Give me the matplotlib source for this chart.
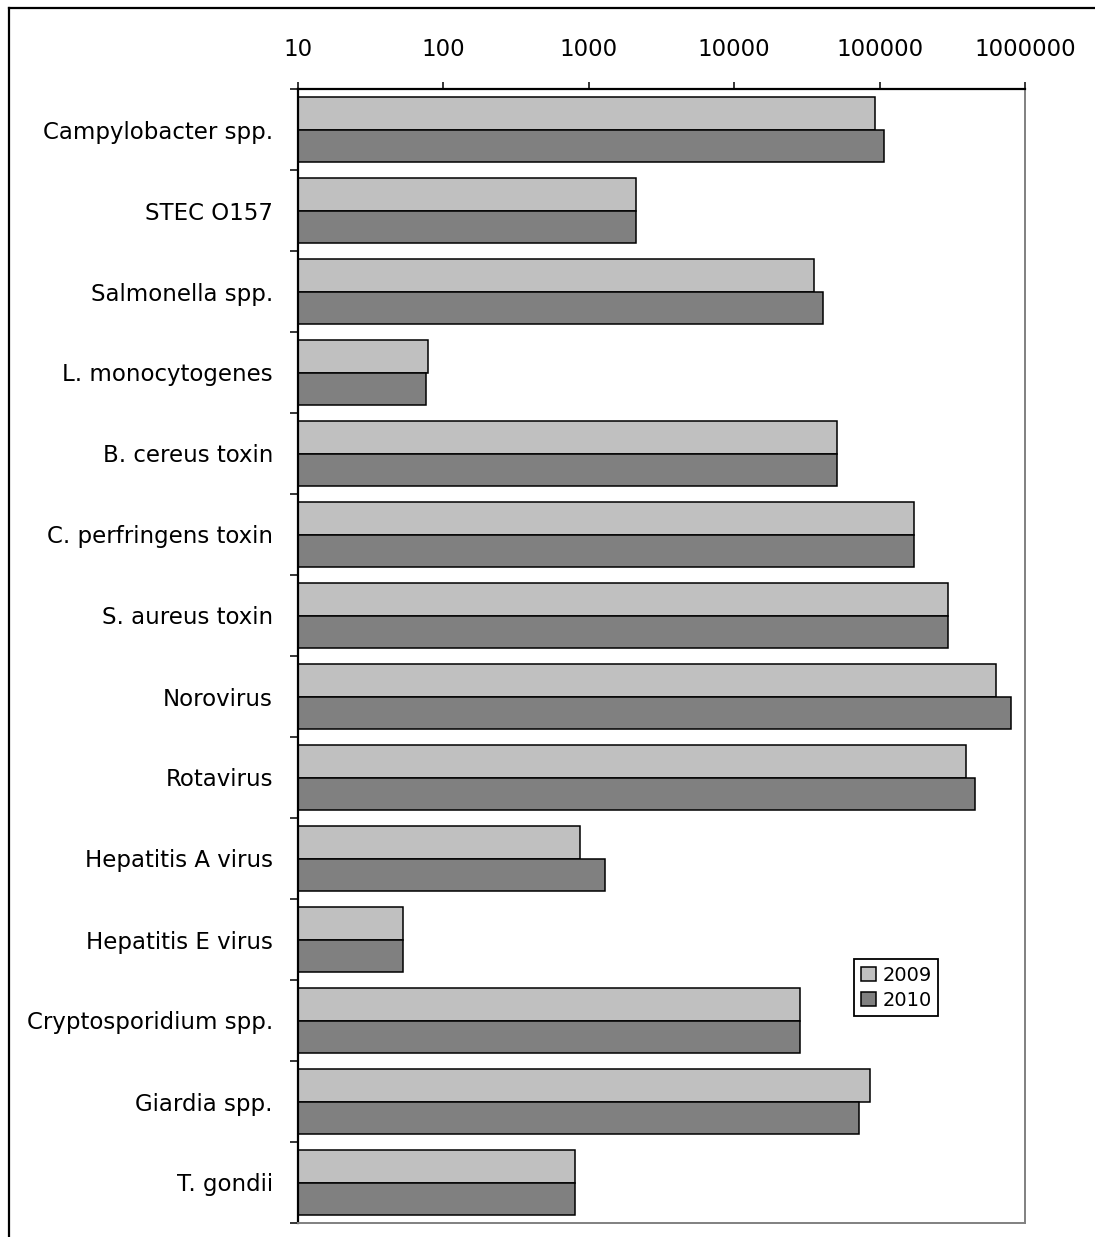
import matplotlib
matplotlib.use("Agg")
import matplotlib.pyplot as plt
from matplotlib.lines import Line2D
import numpy as np

categories = ["Campylobacter spp.", "STEC O157", "Salmonella spp.", "L. monocytogenes",
              "B. cereus toxin", "C. perfringens toxin", "S. aureus toxin", "Norovirus",
              "Rotavirus", "Hepatitis A virus", "Hepatitis E virus", "Cryptosporidium spp.",
              "Giardia spp.", "T. gondii"]
values_2009 = [92900, 2110, 35400, 78, 50900, 172600, 295000, 632000,
               393000, 869, 53, 28400, 85900, 804]
values_2010 = [107000, 2110, 40800, 76, 50900, 172600, 295000, 801000,
               453000, 1292, 53, 28400, 72200, 804]
series_labels = ["2009", "2010"]
x_ticks = [10, 100, 1000, 10000, 100000, 1000000]

plt.rcParams['font.family'] = ['DejaVu Sans']

fig = plt.figure(figsize=(10.95, 12.37), dpi=100)
ax = fig.add_axes([298/1095, 1 - 1223/1237, (1025-298)/1095, (1223-89)/1237])

y = np.arange(len(categories))
h = 0.407
ax.set_xscale('log')
ax.barh(y - h/2, values_2009, height=h, color='#C0C0C0', edgecolor='black', linewidth=1.1, label=series_labels[0])
ax.barh(y + h/2, values_2010, height=h, color='#808080', edgecolor='black', linewidth=1.1, label=series_labels[1])

ax.set_xlim(10, 1000000)
ax.set_ylim(len(categories) - 0.5, -0.5)

ax.xaxis.tick_top()
ax.set_xticks(x_ticks)
ax.set_xticklabels([str(t) for t in x_ticks])
ax.xaxis.set_minor_locator(matplotlib.ticker.NullLocator())
ax.tick_params(axis='x', which='major', direction='out', length=5, width=1.1, pad=15,
               labelsize=16.5, color='black')

ax.set_yticks(y)
ax.set_yticklabels(categories)
ax.set_yticks(np.arange(len(categories) + 1) - 0.5, minor=True)
ax.tick_params(axis='y', which='major', length=0, pad=18, labelsize=16.5)
ax.tick_params(axis='y', which='minor', direction='out', length=6, width=1.1, color='black')

for s in ['top', 'left']:
    ax.spines[s].set_color('black')
    ax.spines[s].set_linewidth(1.6)
for s in ['right', 'bottom']:
    ax.spines[s].set_color('#808080')
    ax.spines[s].set_linewidth(1.4)

leg = ax.legend(loc='upper left', bbox_to_anchor=(0.765, 0.2328), borderaxespad=0,
                fontsize=14, handlelength=0.75, handleheight=0.75, handletextpad=0.35,
                borderpad=0.35, labelspacing=0.3, fancybox=False, framealpha=1)
leg.get_frame().set_edgecolor('black')
leg.get_frame().set_linewidth(1.3)

# figure border (top and left visible)
fig.add_artist(Line2D([9/1095, 9/1095], [0, 1 - 8/1237], color='black', linewidth=1.6, transform=fig.transFigure))
fig.add_artist(Line2D([9/1095, 1], [1 - 8/1237, 1 - 8/1237], color='black', linewidth=1.6, transform=fig.transFigure))

fig.savefig("out.png", dpi=100)
